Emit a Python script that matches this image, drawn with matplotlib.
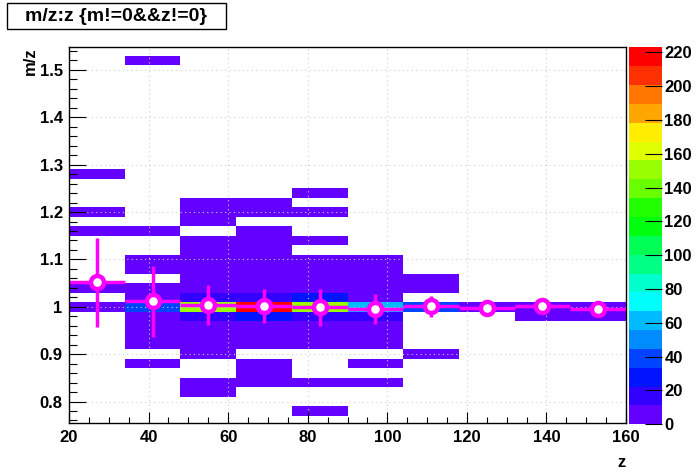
import numpy as np
import matplotlib
matplotlib.use("Agg")
import matplotlib.pyplot as plt
from matplotlib.colors import ListedColormap, BoundaryNorm
from matplotlib.patches import Rectangle
from matplotlib.ticker import MultipleLocator
import colorsys

# ---------------- data ----------------
# histogram binning (z: 10 bins of width 14, m/z: 40 bins of width 0.02)
z_edges = [20, 34, 48, 62, 76, 90, 104, 118, 132, 146, 160]
mz_edges = np.round(np.linspace(0.75, 1.55, 41), 2)

# m/z bin centres of the non-empty rows and their counts per z bin
mz_rows = [1.52, 1.28, 1.24, 1.22, 1.20, 1.18, 1.16, 1.14, 1.12, 1.10, 1.08,
           1.06, 1.04, 1.02, 1.00, 0.98, 0.96, 0.94, 0.92, 0.90, 0.88, 0.86,
           0.84, 0.82, 0.78]
row_counts = [
    [0, 1, 0, 0, 0, 0, 0, 0, 0, 0],      # 1.52
    [1, 0, 0, 0, 0, 0, 0, 0, 0, 0],      # 1.28
    [0, 0, 0, 0, 1, 0, 0, 0, 0, 0],      # 1.24
    [0, 0, 1, 1, 0, 0, 0, 0, 0, 0],      # 1.22
    [1, 0, 1, 1, 1, 0, 0, 0, 0, 0],      # 1.20
    [0, 0, 1, 0, 0, 0, 0, 0, 0, 0],      # 1.18
    [1, 1, 0, 1, 0, 0, 0, 0, 0, 0],      # 1.16
    [0, 0, 1, 2, 1, 0, 0, 0, 0, 0],      # 1.14
    [0, 0, 2, 1, 0, 0, 0, 0, 0, 0],      # 1.12
    [0, 1, 2, 2, 1, 1, 0, 0, 0, 0],      # 1.10
    [0, 2, 3, 3, 2, 1, 0, 0, 0, 0],      # 1.08
    [0, 0, 4, 4, 3, 2, 1, 0, 0, 0],      # 1.06
    [1, 3, 6, 7, 5, 3, 1, 0, 0, 0],      # 1.04
    [0, 8, 17, 19, 27, 9, 0, 0, 0, 0],   # 1.02
    [2, 40, 151, 222, 150, 62, 41, 9, 8, 6],  # 1.00
    [0, 7, 18, 28, 16, 14, 0, 0, 3, 4],  # 0.98
    [0, 4, 6, 7, 5, 3, 0, 0, 0, 0],      # 0.96
    [0, 2, 4, 4, 3, 2, 0, 0, 0, 0],      # 0.94
    [0, 1, 2, 3, 2, 1, 0, 0, 0, 0],      # 0.92
    [0, 0, 1, 0, 0, 0, 1, 0, 0, 0],      # 0.90
    [0, 1, 0, 1, 0, 1, 0, 0, 0, 0],      # 0.88
    [0, 0, 0, 1, 0, 0, 0, 0, 0, 0],      # 0.86
    [0, 0, 1, 1, 1, 1, 0, 0, 0, 0],      # 0.84
    [0, 0, 1, 0, 0, 0, 0, 0, 0, 0],      # 0.82
    [0, 0, 0, 0, 1, 0, 0, 0, 0, 0],      # 0.78
]

# profile (mean m/z per z bin with error)
prof_z = [27, 41, 55, 69, 83, 97, 111, 125, 139, 153]
prof_mz = [1.052, 1.012, 1.004, 1.002, 0.999, 0.996, 1.001, 0.997, 1.002, 0.995]
prof_err = [0.094, 0.075, 0.042, 0.036, 0.039, 0.032, 0.022, 0.015, 0.015, 0.015]
prof_zerr = 7

z_ticks = [20, 40, 60, 80, 100, 120, 140, 160]
mz_ticks = [0.8, 0.9, 1.0, 1.1, 1.2, 1.3, 1.4, 1.5]
mz_ticklabels = ["0.8", "0.9", "1", "1.1", "1.2", "1.3", "1.4", "1.5"]
cbar_ticks = [0, 20, 40, 60, 80, 100, 120, 140, 160, 180, 200, 220]
z_max = 223
title = "m/z:z {m!=0&&z!=0}"

# ---------------- build histogram ----------------
H = np.zeros((len(mz_edges) - 1, len(z_edges) - 1))
for mz, row in zip(mz_rows, row_counts):
    k = np.digitize(mz, mz_edges) - 1
    H[k] = row
Hm = np.ma.masked_less_equal(H, 0)

# ROOT "pretty palette" (violet -> red), 20 contour levels
ndiv = 20
cols = []
for c in range(ndiv):
    j = int((c + 0.99) * 50 / ndiv)
    hue = 280.0 - (j + 1) * 280.0 / 50
    cols.append(colorsys.hls_to_rgb(hue / 360.0, 0.5, 1.0))
cmap = ListedColormap(cols)
norm = BoundaryNorm(np.linspace(0, z_max, ndiv + 1), ndiv)

FONT = "Liberation Sans"
plt.rcParams["font.family"] = [FONT, "DejaVu Sans"]
plt.rcParams["font.weight"] = "bold"

W, Hpx = 696, 472
fig = plt.figure(figsize=(W / 100, Hpx / 100), dpi=100)
L, R, T, B = 69, 626, 47, 423
ax = fig.add_axes([L / W, 1 - B / Hpx, (R - L) / W, (B - T) / Hpx])

mesh = ax.pcolormesh(z_edges, mz_edges, Hm, cmap=cmap, norm=norm, zorder=1)

ax.errorbar(prof_z, prof_mz, xerr=prof_zerr, yerr=prof_err, fmt="o",
            color="#ff00ff", ecolor="#ff00ff", mfc="white", mec="#ff00ff",
            ms=9.4, mew=3.2, elinewidth=2.5, capsize=0, zorder=4)

ax.set_xlim(20, 160)
ax.set_ylim(0.7547, 1.5485)
ax.set_xticks(z_ticks)
ax.set_yticks(mz_ticks)
ax.set_yticklabels(mz_ticklabels)
ax.xaxis.set_minor_locator(MultipleLocator(5))
ax.yaxis.set_minor_locator(MultipleLocator(0.02))
ax.tick_params(axis="both", which="both", direction="in", top=False, right=False,
               labelsize=12, width=0.8, color="black")
ax.tick_params(axis="x", which="major", length=8, pad=5)
ax.tick_params(axis="x", which="minor", length=4)
ax.tick_params(axis="y", which="major", length=12, pad=4.5)
ax.tick_params(axis="y", which="minor", length=6)
for lab in ax.get_xticklabels() + ax.get_yticklabels():
    lab.set_fontweight("bold")

ax.set_axisbelow(False)
ax.grid(True, which="major", color="#cfcfcf", linestyle=(0, (1, 3)), linewidth=0.8)
for s in ax.spines.values():
    s.set_linewidth(1.0)
    s.set_zorder(5)

ax.set_xlabel("z", loc="right", fontsize=12, fontweight="bold", labelpad=7)
ax.set_ylabel("m/z", loc="top", fontsize=12, fontweight="bold", labelpad=1)

# colour bar
cax = fig.add_axes([629 / W, 1 - 424.3 / Hpx, 32.7 / W, 377 / Hpx])
cb = fig.colorbar(mesh, cax=cax, ticks=cbar_ticks)
cb.outline.set_visible(False)
cax.tick_params(axis="y", direction="in", length=12, width=0.8, right=True,
                left=False, labelsize=12, pad=2)
for lab in cax.get_yticklabels():
    lab.set_fontweight("bold")
cax.minorticks_off()

# title box
fig.patches.append(Rectangle((6.7 / W, 1 - 29.3 / Hpx), (226 - 6.7) / W, 26 / Hpx,
                             transform=fig.transFigure, facecolor="white",
                             edgecolor="black", linewidth=1.0))
fig.text(116 / W, 1 - 16.3 / Hpx, title, ha="center", va="center",
         fontsize=14, fontweight="bold")

fig.savefig("out.png", dpi=100)
